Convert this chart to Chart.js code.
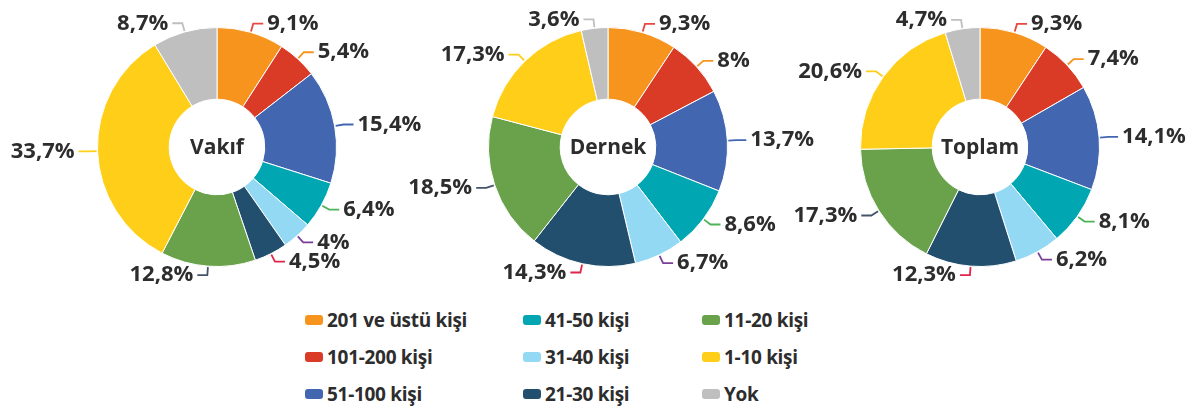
<!DOCTYPE html>
<html>
<head>
<meta charset="utf-8">
<script src="https://cdn.jsdelivr.net/npm/chart.js@4"></script>
<style>
  html, body { margin: 0; padding: 0; background: #fff; overflow: hidden; }
  #wrap { position: relative; width: 1187px; height: 408px; }
  canvas { position: absolute; top: 0; }
  .legend { position: absolute; font-family: "Open Sans", sans-serif; font-weight: 700; font-size: 19px; color: #2d2d2d; letter-spacing: -0.3px; }
  .item { position: absolute; white-space: nowrap; display: flex; align-items: center; height: 24px; }
  .sw { display: inline-block; width: 18px; height: 10px; border-radius: 3px; margin-right: 4px; }
</style>
</head>
<body>
<div id="wrap">
  <canvas id="c1" width="460" height="290"></canvas>
  <canvas id="c2" width="460" height="290"></canvas>
  <canvas id="c3" width="460" height="290"></canvas>
  <div class="legend" id="legend"></div>
</div>
<script>
const categories = ['201 ve üstü kişi', '101-200 kişi', '51-100 kişi', '41-50 kişi', '31-40 kişi', '21-30 kişi', '11-20 kişi', '1-10 kişi', 'Yok'];
const colors = ['#F7941E', '#DA3B26', '#4366B0', '#00A6B2', '#94D9F4', '#234F6F', '#6AA24B', '#FECE18', '#BFBFBF'];
const lineColors = ['#E8473F', '#F7941E', '#4366B0', '#4CB357', '#7B3F98', '#E0254A', '#44546A', '#FECE18', '#BFBFBF'];

const vakif = [9.1, 5.4, 15.4, 6.4, 4, 4.5, 12.8, 33.7, 8.7];
const dernek = [9.3, 8, 13.7, 8.6, 6.7, 14.3, 18.5, 17.3, 3.6];
const toplam = [9.3, 7.4, 14.1, 8.1, 6.2, 12.3, 17.3, 20.6, 4.7];

const titles = ['Vakıf', 'Dernek', 'Toplam'];
const centersX = [217, 608, 980];

const fmt = v => String(v).replace('.', ',') + '%';

const labelPlugin = {
  id: 'labels',
  afterDatasetsDraw(chart, args, opts) {
    const ctx = chart.ctx;
    const meta = chart.getDatasetMeta(0);
    const data = chart.data.datasets[0].data;
    ctx.save();
    meta.data.forEach((arc, i) => {
      const mid = (arc.startAngle + arc.endAngle) / 2;
      const r = arc.outerRadius;
      const cos = Math.cos(mid), sin = Math.sin(mid);
      const x1 = arc.x + cos * (r + 1), y1 = arc.y + sin * (r + 1);
      const x2 = arc.x + cos * (r + 9), y2 = arc.y + sin * (r + 9);
      const dir = cos >= 0 ? 1 : -1;
      const x3 = x2 + dir * 10;
      ctx.strokeStyle = lineColors[i];
      ctx.lineWidth = 1.8;
      ctx.beginPath();
      ctx.moveTo(x1, y1);
      ctx.lineTo(x2, y2);
      ctx.lineTo(x3, y2);
      ctx.stroke();
      ctx.fillStyle = '#2d2d2d';
      ctx.font = '700 22px "Open Sans"';
      ctx.textBaseline = 'middle';
      ctx.textAlign = dir > 0 ? 'left' : 'right';
      ctx.fillText(fmt(data[i]), x3 + dir * 4, y2);
    });
    const a = meta.data[0];
    ctx.fillStyle = '#2d2d2d';
    ctx.font = '700 21px "Open Sans"';
    ctx.textAlign = 'center';
    ctx.textBaseline = 'middle';
    ctx.fillText(opts.title, a.x, a.y + 1);
    ctx.restore();
  }
};

function makeChart(id, values, title, cx) {
  const el = document.getElementById(id);
  el.style.left = (cx - 230) + 'px';
  return new Chart(el, {
    type: 'doughnut',
    data: {
      labels: categories,
      datasets: [{
        data: values,
        backgroundColor: colors,
        borderColor: '#ffffff',
        borderWidth: 1
      }]
    },
    options: {
      responsive: false,
      animation: false,
      cutout: '40%',
      layout: { padding: { top: 27, bottom: 23, left: 0, right: 0 } },
      plugins: {
        legend: { display: false },
        tooltip: { enabled: false },
        labels: { title: title }
      }
    },
    plugins: [labelPlugin]
  });
}

makeChart('c1', vakif, titles[0], centersX[0]);
makeChart('c2', dernek, titles[1], centersX[1]);
makeChart('c3', toplam, titles[2], centersX[2]);

// legend, filled column by column
const legend = document.getElementById('legend');
const colX = [305, 523, 702];
const rowY = [308, 345, 382];
categories.forEach((name, i) => {
  const col = Math.floor(i / 3), row = i % 3;
  const d = document.createElement('div');
  d.className = 'item';
  d.style.left = colX[col] + 'px';
  d.style.top = rowY[row] + 'px';
  d.innerHTML = '<span class="sw" style="background:' + colors[i] + '"></span>' + name;
  legend.appendChild(d);
});
</script>
</body>
</html>
